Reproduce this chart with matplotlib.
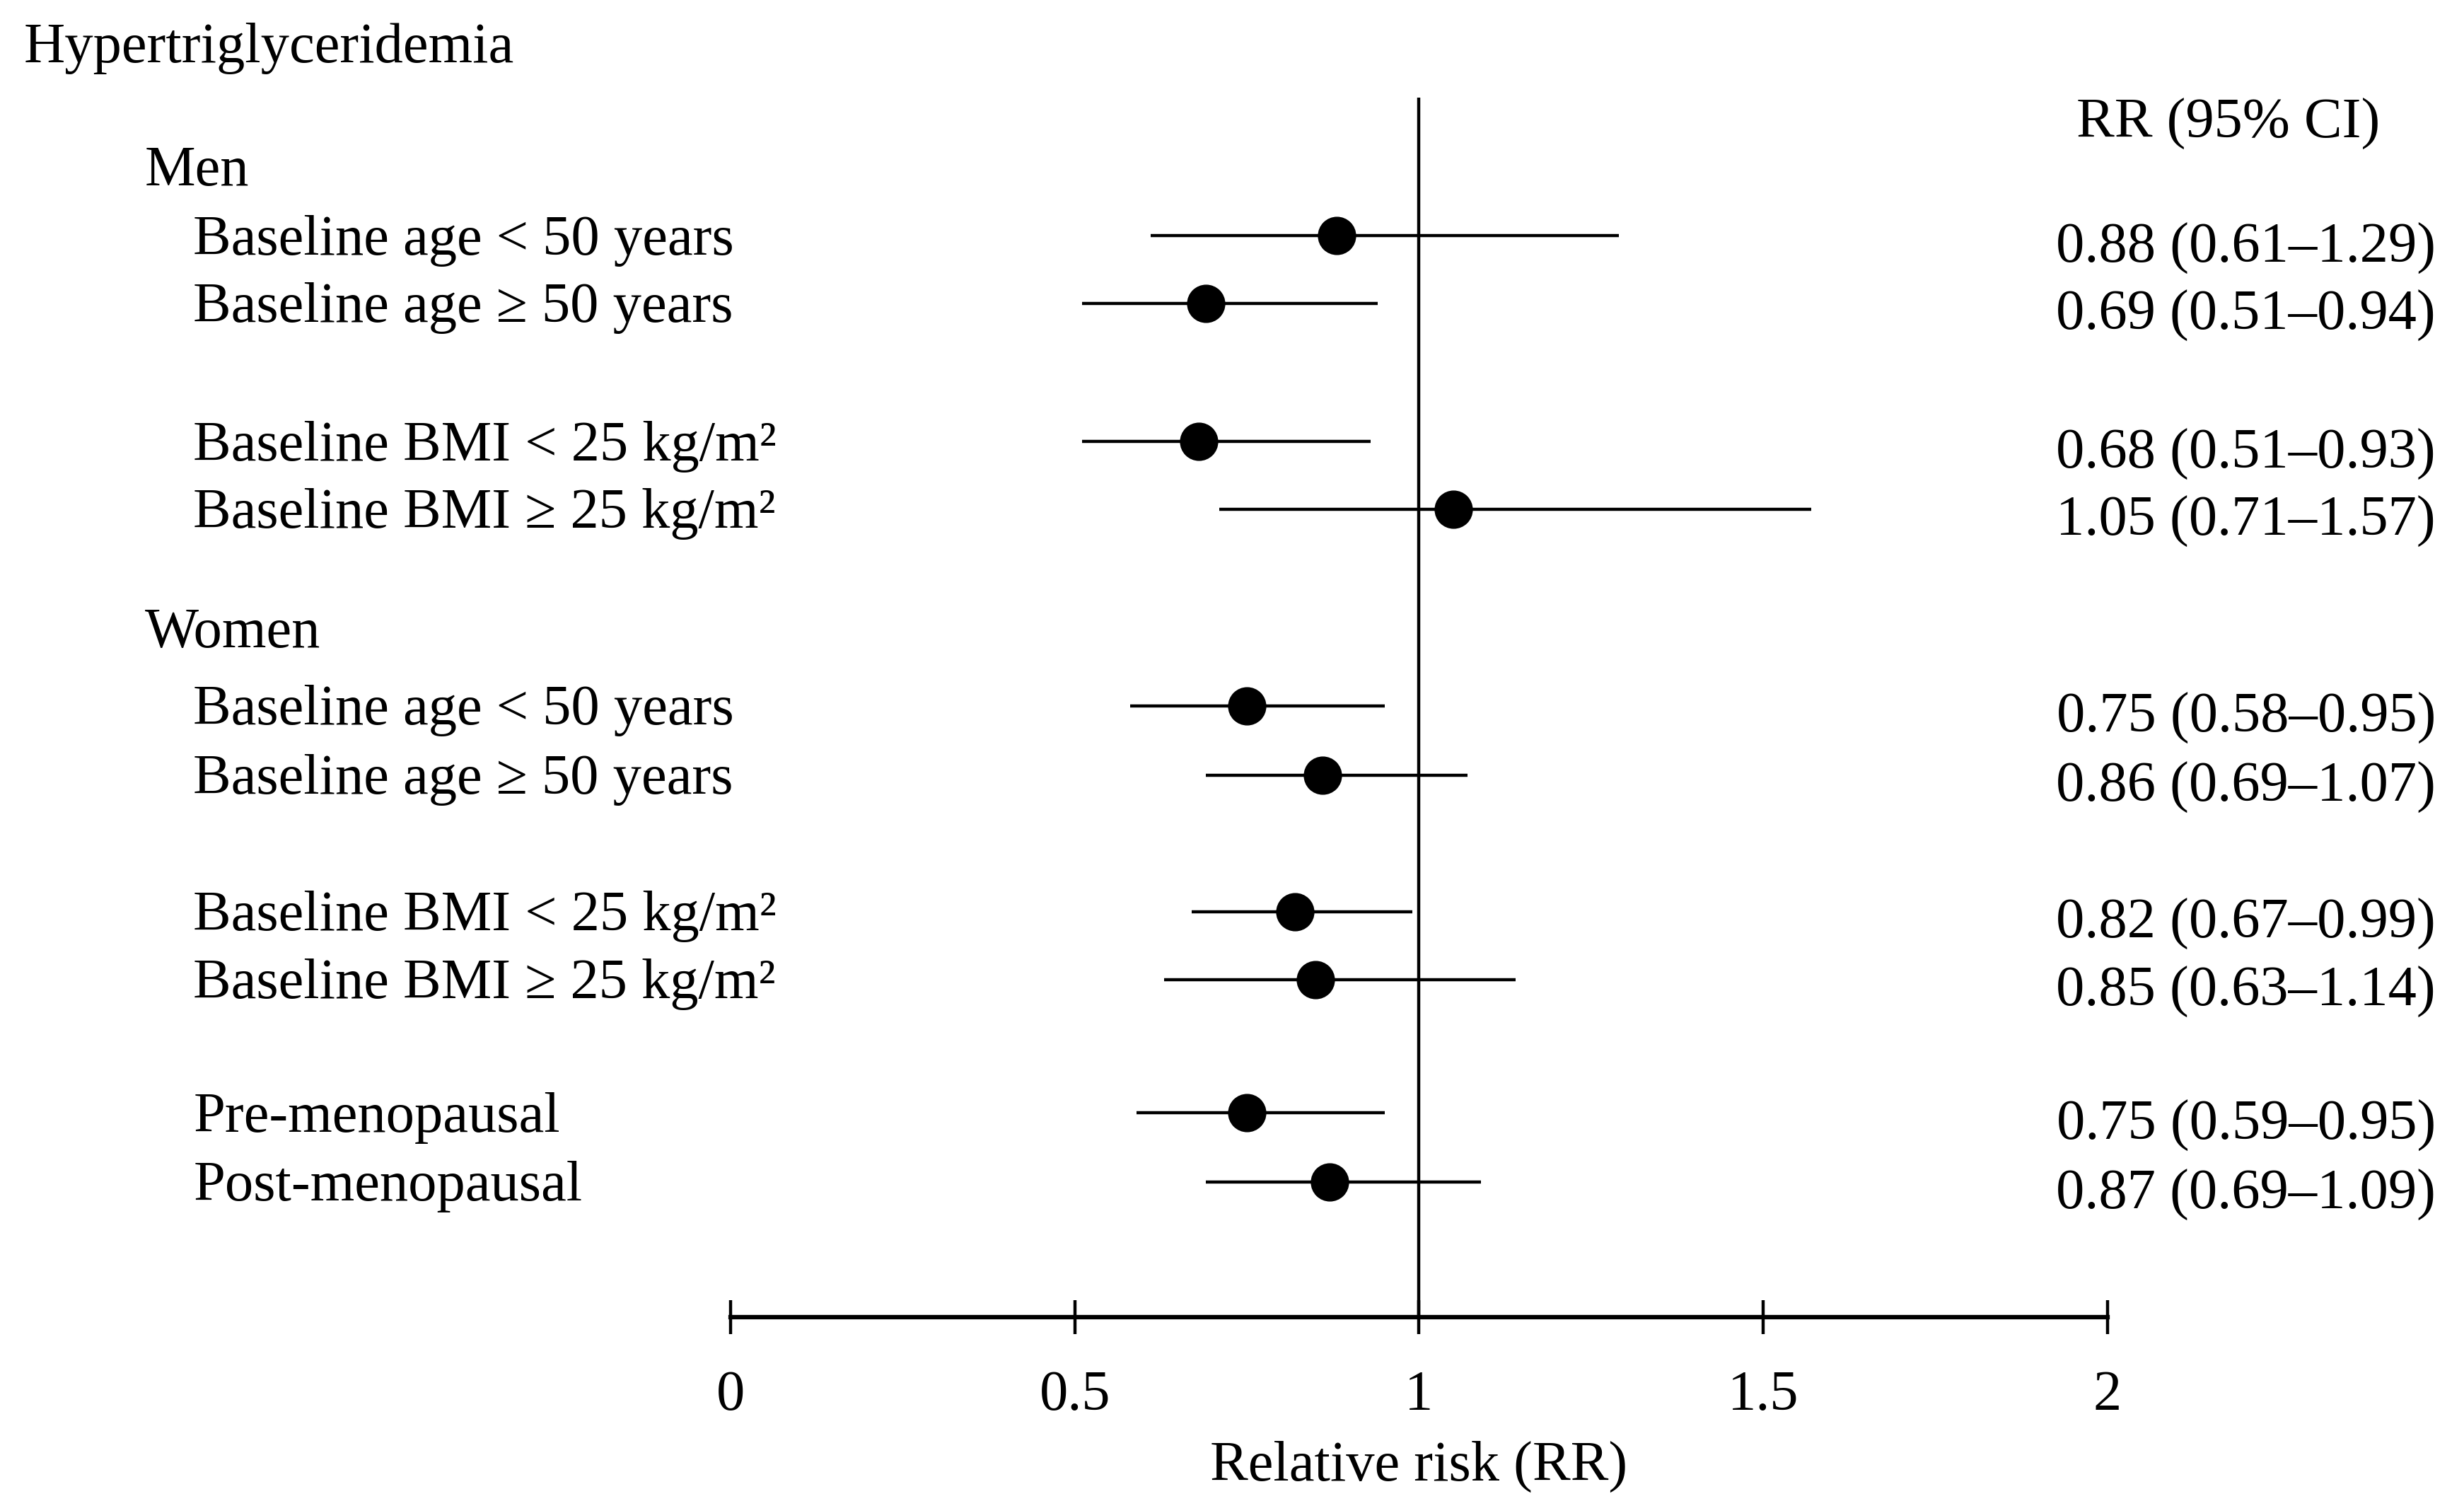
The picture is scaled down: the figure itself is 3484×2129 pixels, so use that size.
import matplotlib
matplotlib.use("Agg")
import matplotlib.pyplot as plt
import numpy as np

plt.rcParams['font.family'] = ['Liberation Serif', 'DejaVu Serif']

# data
labels = ["Baseline age < 50 years", "Baseline age \u2265 50 years",
          "Baseline BMI < 25 kg/m\u00b2", "Baseline BMI \u2265 25 kg/m\u00b2",
          "Baseline age < 50 years", "Baseline age \u2265 50 years",
          "Baseline BMI < 25 kg/m\u00b2", "Baseline BMI \u2265 25 kg/m\u00b2",
          "Pre-menopausal", "Post-menopausal"]
rr = [0.88, 0.69, 0.68, 1.05, 0.75, 0.86, 0.82, 0.85, 0.75, 0.87]
ci_low = [0.61, 0.51, 0.51, 0.71, 0.58, 0.69, 0.67, 0.63, 0.59, 0.69]
ci_high = [1.29, 0.94, 0.93, 1.57, 0.95, 1.07, 0.99, 1.14, 0.95, 1.09]
groups = ["Men", "Women"]
xticks = [0, 0.5, 1, 1.5, 2]

# layout (vertical positions in picture rows, top = 0)
row_y = [150, 193, 281, 324, 449, 493, 580, 623, 708, 752]
group_y = [106, 400]
axis_y = 838

FS = 58

fig = plt.figure(figsize=(34.84, 21.29), dpi=100)
ax = fig.add_axes([0, 0, 1, 1])
ax.set_xlim(-465 / 438, (1568 - 465) / 438)
ax.set_ylim(958, 0)

rr_a = np.array(rr)
xerr = [rr_a - np.array(ci_low), np.array(ci_high) - rr_a]
ax.errorbar(rr, row_y, xerr=xerr, fmt='o', color='black', ms=38,
            elinewidth=3.2, capsize=0, zorder=3)

# reference line at RR = 1
ax.vlines(1, 62, axis_y, color='black', lw=3.2)

# x axis as a floating spine
for s in ['top', 'right', 'left']:
    ax.spines[s].set_visible(False)
ax.spines['bottom'].set_position(('data', axis_y))
ax.spines['bottom'].set_bounds(0, 2)
ax.spines['bottom'].set_linewidth(4.5)
ax.set_xticks(xticks)
ax.set_xticklabels(["0", "0.5", "1", "1.5", "2"])
ax.tick_params(axis='x', direction='inout', length=34, width=3.2,
               labelsize=FS, pad=37)
ax.set_yticks([])

tr = ax.get_yaxis_transform()
ax.text(0.0096, 31, "Hypertriglyceridemia", transform=tr, fontsize=FS,
        va='center', ha='left')
ax.text(0.9043, 79, "RR (95% CI)", transform=tr, fontsize=FS,
        va='center', ha='center')
for g, gy in zip(groups, group_y):
    ax.text(0.0587, gy + 3, g, transform=tr, fontsize=FS, va='center', ha='left')

for lab, y, r, lo, hi in zip(labels, row_y, rr, ci_low, ci_high):
    ax.text(0.0784, y + 3, lab, transform=tr, fontsize=FS,
            va='center', ha='left')
    ax.text(0.9885, y + 8, f"{r:.2f} ({lo:.2f}\u2013{hi:.2f})", transform=tr,
            fontsize=FS, va='center', ha='right')

ax.text(1, 933, "Relative risk (RR)", fontsize=FS, va='center', ha='center')

fig.savefig("out.png", dpi=100)
